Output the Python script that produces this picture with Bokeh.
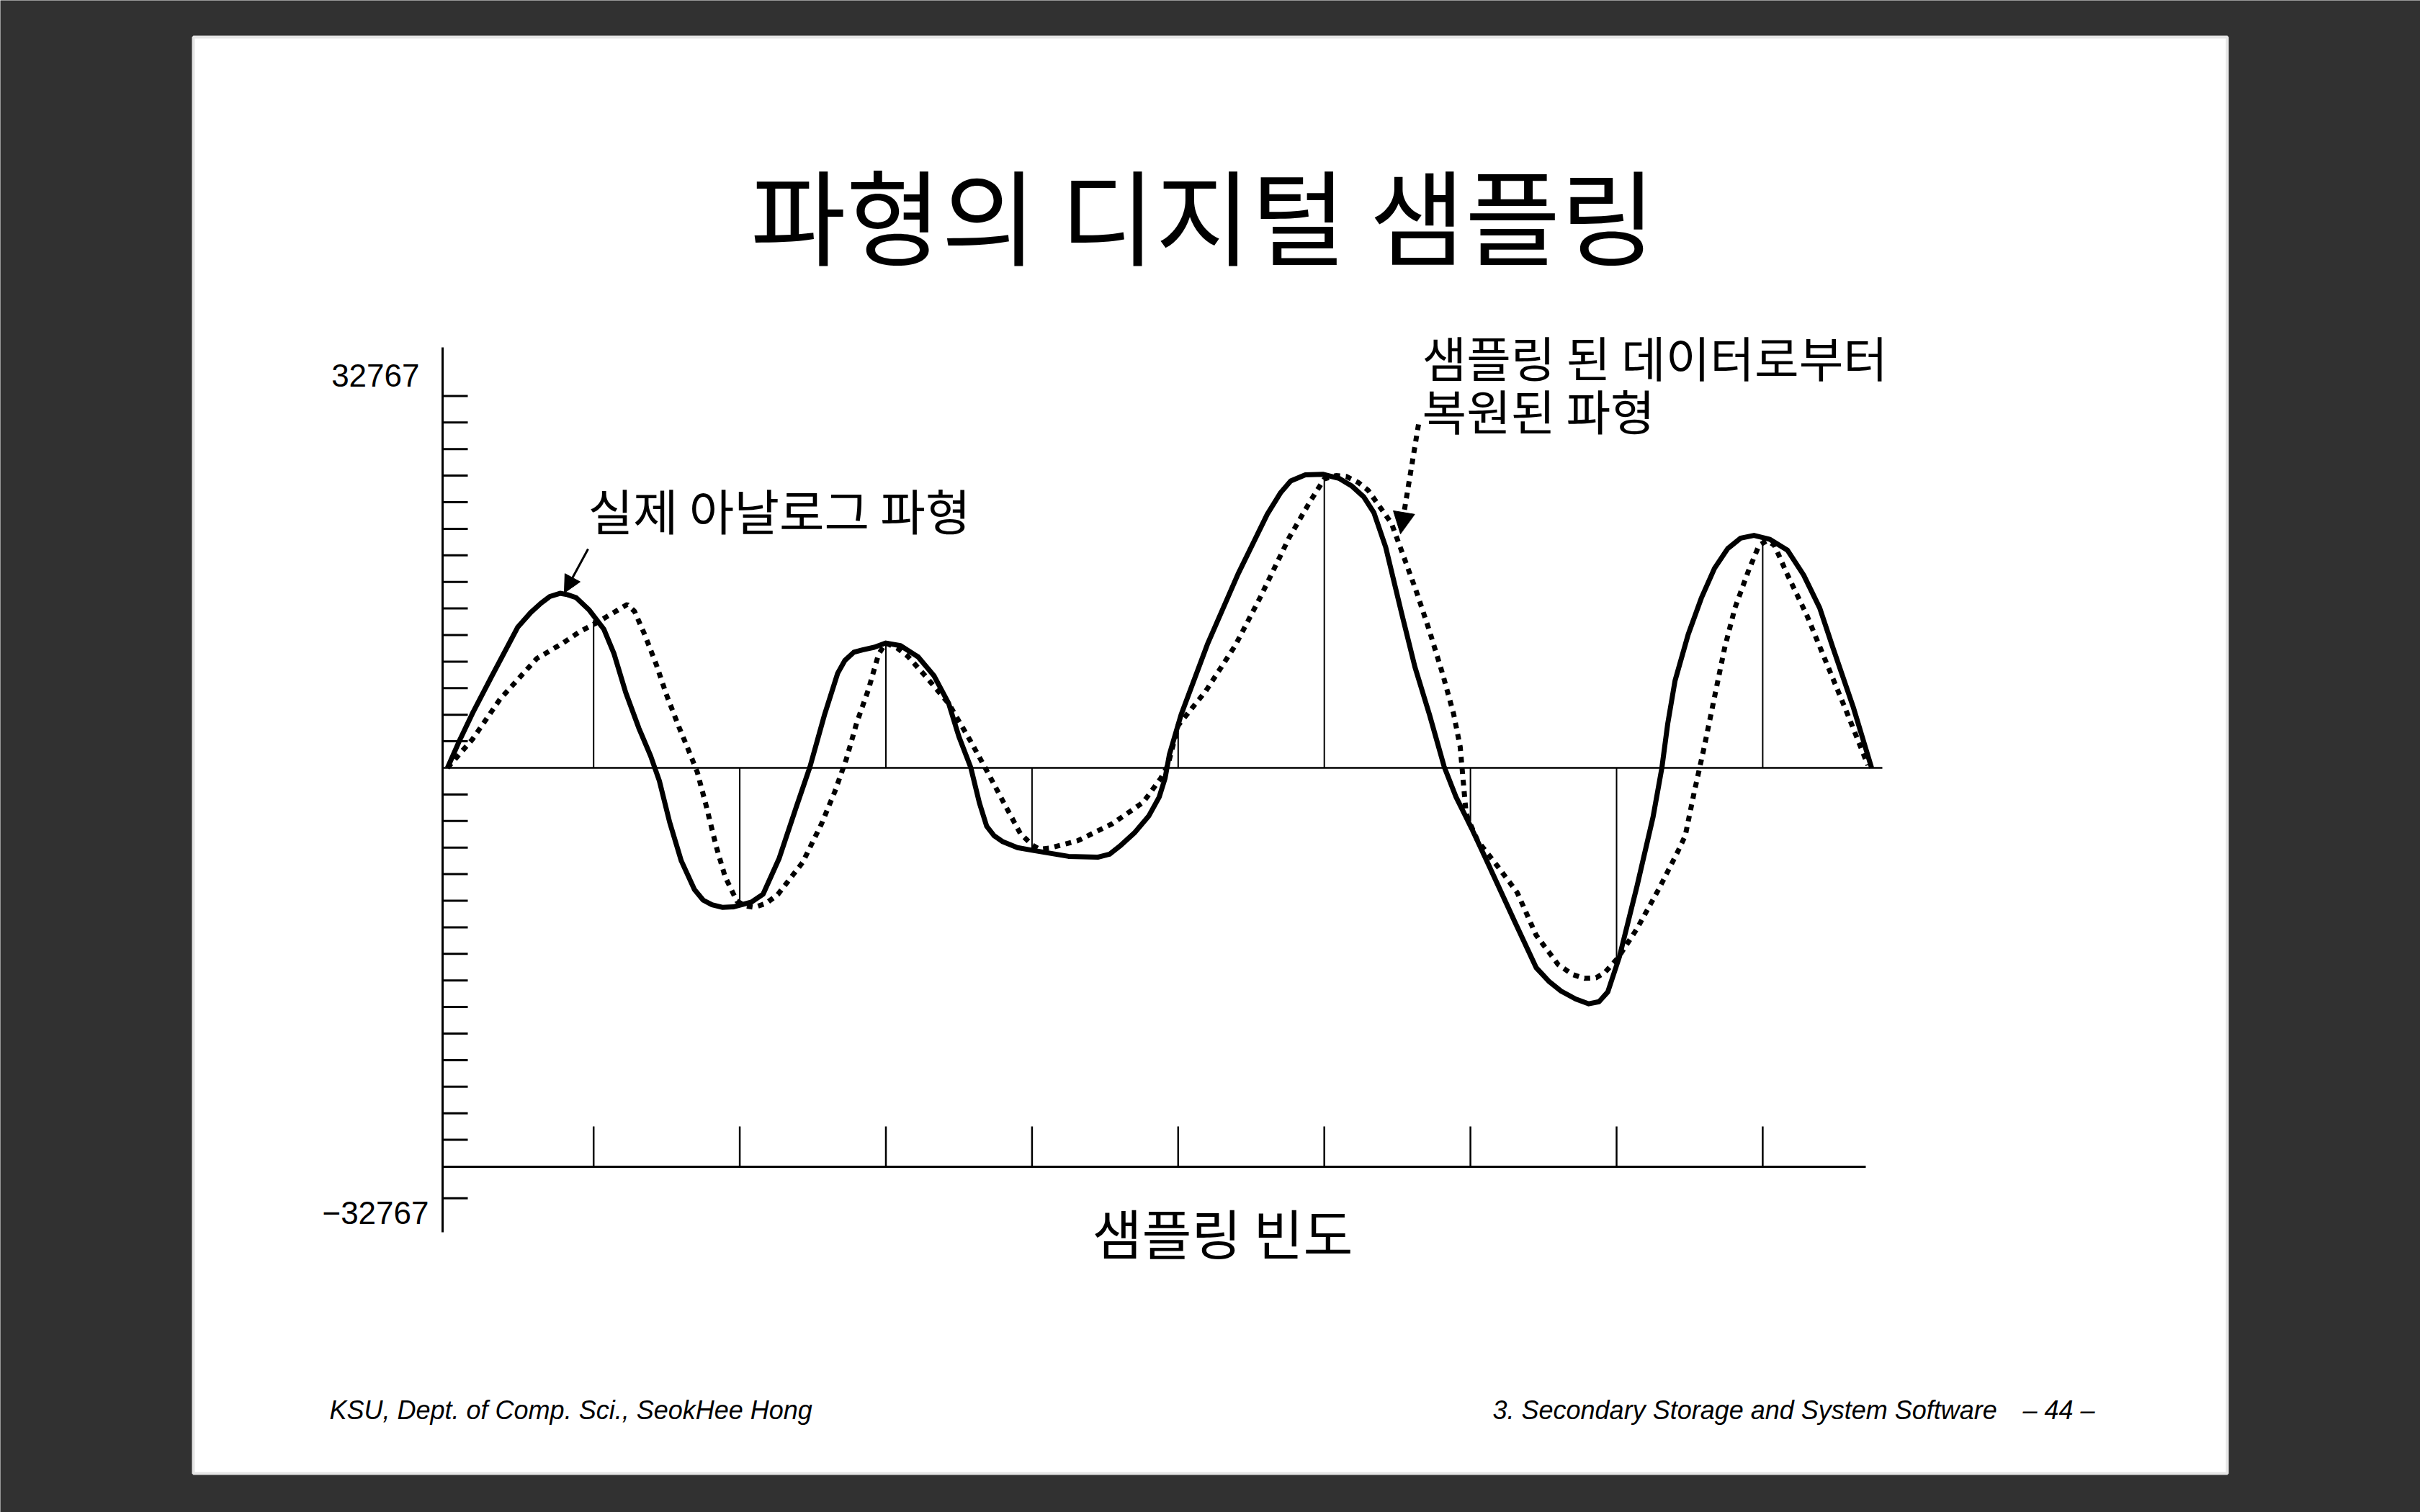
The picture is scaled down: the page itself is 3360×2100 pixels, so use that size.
from bokeh.plotting import figure
from bokeh.models import Range1d, Arrow, NormalHead
from bokeh.core.properties import value
from bokeh.embed import file_html
from bokeh.resources import INLINE

# ---------------- data ----------------
title_text = "파형의 디지털 샘플링"
analog_label = "실제 아날로그 파형"
recon_label = ["샘플링 된 데이터로부터", "복원된 파형"]
x_axis_label = "샘플링 빈도"
y_max_label = "32767"
y_min_label = "\u221232767"
footer_left = "KSU, Dept. of Comp. Sci., SeokHee Hong"
footer_right = "3. Secondary Storage and System Software"
page_no = "\u2013 44 \u2013"

# sample index (x) and sampled amplitude in tick units (y)
sample_x = [1, 2, 3, 4, 5, 6, 7, 8, 9]
sample_y = [5.56, -5.12, 4.70, -3.08, 1.60, 10.88, -2.00, -7.20, 8.60]

# analog (solid) waveform
analog_x = [0.00, 0.08, 0.17, 0.30, 0.48, 0.57, 0.64, 0.70, 0.77, 0.82, 0.88, 0.97, 1.07, 1.14,
            1.22, 1.31, 1.39, 1.45, 1.52, 1.60, 1.69, 1.75, 1.81, 1.88, 1.96, 2.08, 2.16, 2.27,
            2.39, 2.48, 2.58, 2.67, 2.72, 2.78, 2.84, 2.92, 3.00, 3.10, 3.22, 3.33, 3.43, 3.50,
            3.58, 3.64, 3.69, 3.74, 3.80, 3.90, 4.00, 4.25, 4.45, 4.53, 4.60, 4.70, 4.80, 4.87,
            4.91, 4.94, 5.02, 5.20, 5.41, 5.61, 5.70, 5.77, 5.87, 5.99, 6.10, 6.19, 6.27, 6.34,
            6.42, 6.53, 6.62, 6.72, 6.82, 6.90, 7.01, 7.12, 7.30, 7.45, 7.54, 7.62, 7.72, 7.81,
            7.88, 7.94, 8.02, 8.14, 8.25, 8.31, 8.35, 8.40, 8.49, 8.58, 8.67, 8.76, 8.85, 8.94,
            9.05, 9.17, 9.28, 9.39, 9.48, 9.62, 9.745]
analog_y = [0.00, 1.00, 2.04, 3.42, 5.29, 5.85, 6.20, 6.45, 6.57, 6.52, 6.41, 5.94, 5.22, 4.29,
            2.83, 1.49, 0.45, -0.49, -2.04, -3.50, -4.58, -4.98, -5.15, -5.25, -5.23, -5.05, -4.75, -3.40,
            -1.42, 0.03, 2.00, 3.56, 4.05, 4.35, 4.44, 4.54, 4.70, 4.60, 4.18, 3.46, 2.42, 1.17,
            0.03, -1.32, -2.20, -2.55, -2.78, -3.00, -3.10, -3.33, -3.36, -3.25, -2.95, -2.45, -1.80, -1.10,
            -0.40, 0.50, 2.00, 4.65, 7.30, 9.55, 10.35, 10.80, 11.03, 11.05, 10.90, 10.60, 10.20, 9.60,
            8.31, 5.80, 3.80, 2.00, 0.05, -1.08, -2.30, -3.60, -5.75, -7.52, -8.05, -8.40, -8.70, -8.88,
            -8.80, -8.43, -7.10, -4.45, -1.84, 0.00, 1.66, 3.28, 5.02, 6.39, 7.51, 8.25, 8.65, 8.75,
            8.60, 8.19, 7.26, 6.02, 4.53, 2.28, 0.00]

# reconstructed (dotted) waveform
recon_x = [0.00, 0.17, 0.36, 0.61, 0.79, 0.90, 1.01, 1.12, 1.23, 1.28, 1.35, 1.43, 1.50, 1.58,
           1.65, 1.71, 1.77, 1.84, 1.90, 1.98, 2.04, 2.10, 2.18, 2.26, 2.43, 2.56, 2.65, 2.73,
           2.80, 2.88, 2.95, 3.00, 3.08, 3.15, 3.27, 3.43, 3.58, 3.68, 3.82, 3.92, 4.00, 4.05,
           4.12, 4.31, 4.55, 4.76, 4.88, 4.93, 5.00, 5.19, 5.39, 5.56, 5.76, 5.90, 6.00, 6.08,
           6.15, 6.23, 6.30, 6.46, 6.54, 6.63, 6.72, 6.81, 6.885, 6.93, 6.95, 6.97, 6.99, 7.05,
           7.18, 7.32, 7.45, 7.60, 7.70, 7.78, 7.86, 7.92, 8.01, 8.14, 8.29, 8.42, 8.47, 8.53,
           8.60, 8.67, 8.74, 8.81, 8.90, 8.975, 9.03, 9.08, 9.17, 9.30, 9.44, 9.58, 9.72]
recon_y = [0.00, 1.07, 2.59, 4.11, 4.70, 5.11, 5.43, 5.79, 6.15, 5.89, 5.01, 3.87, 2.73, 1.59,
           0.66, -0.17, -1.42, -2.98, -4.10, -5.01, -5.20, -5.25, -5.10, -4.77, -3.56, -2.10, -0.90, 0.34,
           1.69, 2.94, 4.28, 4.70, 4.50, 4.20, 3.46, 2.42, 1.00, 0.00, -1.45, -2.47, -2.90, -3.06,
           -3.02, -2.75, -2.10, -1.30, -0.40, 0.10, 1.60, 2.90, 4.60, 6.40, 8.67, 10.00, 10.88, 11.00,
           10.97, 10.75, 10.45, 9.20, 8.00, 6.64, 5.15, 3.53, 2.03, 0.79, -0.46, -1.70, -2.00, -2.75,
           -3.66, -4.69, -6.30, -7.40, -7.78, -7.92, -7.90, -7.70, -7.15, -6.05, -4.55, -3.14, -2.55, -0.95,
           0.79, 2.66, 4.53, 6.02, 7.38, 8.38, 8.55, 8.38, 7.26, 5.77, 3.90, 2.03, 0.10]

# axis scale marks (tick units)
y_ticks = [14, 13, 12, 11, 10, 9, 8, 7, 6, 5, 4, 3, 2, 1,
           -1, -2, -3, -4, -5, -6, -7, -8, -9, -10, -11, -12, -13, -14, -16.2]
x_ticks = [1, 2, 3, 4, 5, 6, 7, 8, 9]

# ---------------- layout (pixel -> data) ----------------
W, H = 3360, 2100
X0, DX = 620.8, 202.9     # pixel of sample 0, pixels per sample
Y0, DY = 1066.0, 36.9     # pixel of zero line, pixels per tick unit


def px(X):
    return (X - X0) / DX


def py(Y):
    return (Y0 - Y) / DY


p = figure(width=W, height=H, x_range=Range1d(px(0), px(W)), y_range=Range1d(py(H), py(0)),
           output_backend="svg", toolbar_location=None, min_border=0,
           x_axis_location=None, y_axis_location=None,
           background_fill_color="#313131", border_fill_color="#313131",
           outline_line_color=None)
p.grid.grid_line_color = None

# slide
p.quad(left=[px(268)], right=[px(3092)], top=[py(51)], bottom=[py(2046)],
       fill_color="white", line_color="#e6e6e6", line_width=4)

axis_x = px(614)
y_top = py(482)
y_bot = py(1711)
bottom_axis_y = py(1620)
x_end_zero = px(2613)
x_end_bottom = px(2590)
tick_len = 35 / DX
xtick_len = 56 / DY

# stems
p.segment(x0=sample_x, y0=[0] * len(sample_x), x1=sample_x, y1=sample_y,
          line_color="black", line_width=2)
# zero line
p.segment(x0=[axis_x], y0=[0], x1=[x_end_zero], y1=[0], line_color="black", line_width=2.5)
# y axis
p.segment(x0=[axis_x], y0=[y_bot], x1=[axis_x], y1=[y_top], line_color="black", line_width=3)
p.segment(x0=[axis_x] * len(y_ticks), y0=y_ticks, x1=[axis_x + tick_len] * len(y_ticks), y1=y_ticks,
          line_color="black", line_width=3)
# bottom axis
p.segment(x0=[axis_x], y0=[bottom_axis_y], x1=[x_end_bottom], y1=[bottom_axis_y],
          line_color="black", line_width=3)
p.segment(x0=x_ticks, y0=[bottom_axis_y] * len(x_ticks), x1=x_ticks,
          y1=[bottom_axis_y + xtick_len] * len(x_ticks), line_color="black", line_width=2.5)

# waveforms
p.line(recon_x, recon_y, line_color="black", line_width=7, line_dash="8 8")
p.line(analog_x, analog_y, line_color="black", line_width=7, line_join="round")

KR = value("Noto Sans CJK KR")

p.text(x=[px(1670)], y=[py(294)], text=[title_text], text_font=KR,
       text_font_size=value("144px"), text_align="center", text_baseline="middle", text_color="black")
p.text(x=[px(816)], y=[py(707)], text=[analog_label], text_font=KR,
       text_font_size=value("68px"), text_align="left", text_baseline="middle", text_color="black")
p.text(x=[px(1974), px(1974)], y=[py(494), py(568)], text=recon_label, text_font=KR,
       text_font_size=value("67px"), text_align="left", text_baseline="middle", text_color="black")
p.text(x=[px(1697)], y=[py(1710)], text=[x_axis_label], text_font=KR,
       text_font_size=value("75px"), text_align="center", text_baseline="middle", text_color="black")

p.text(x=[px(582)], y=[py(521)], text=[y_max_label], text_font=value("Liberation Sans"),
       text_font_size=value("44px"), text_align="right", text_baseline="middle", text_color="black")
p.text(x=[px(595)], y=[py(1684)], text=[y_min_label], text_font=value("Liberation Sans"),
       text_font_size=value("44px"), text_align="right", text_baseline="middle", text_color="black")

p.text(x=[px(457)], y=[py(1958)], text=[footer_left], text_font=value("Liberation Sans"),
       text_font_style="italic", text_font_size=value("36px"), text_align="left",
       text_baseline="alphabetic", text_color="black")
p.text(x=[px(2072)], y=[py(1958)], text=[footer_right], text_font=value("Liberation Sans"),
       text_font_style="italic", text_font_size=value("36px"), text_align="left",
       text_baseline="alphabetic", text_color="black")
p.text(x=[px(2908)], y=[py(1958)], text=[page_no], text_font=value("Liberation Sans"),
       text_font_style="italic", text_font_size=value("36px"), text_align="right",
       text_baseline="alphabetic", text_color="black")

# arrows
p.add_layout(Arrow(end=NormalHead(size=24, fill_color="black", line_color="black", line_width=1),
                   x_start=px(816), y_start=py(762), x_end=px(783), y_end=py(823),
                   line_color="black", line_width=3))
p.add_layout(Arrow(end=NormalHead(size=30, fill_color="black", line_color="black", line_width=1),
                   x_start=px(1969), y_start=py(589), x_end=px(1944), y_end=py(741),
                   line_color="black", line_width=7, line_dash="8 8"))

open("out.html", "w").write(file_html(p, INLINE))
